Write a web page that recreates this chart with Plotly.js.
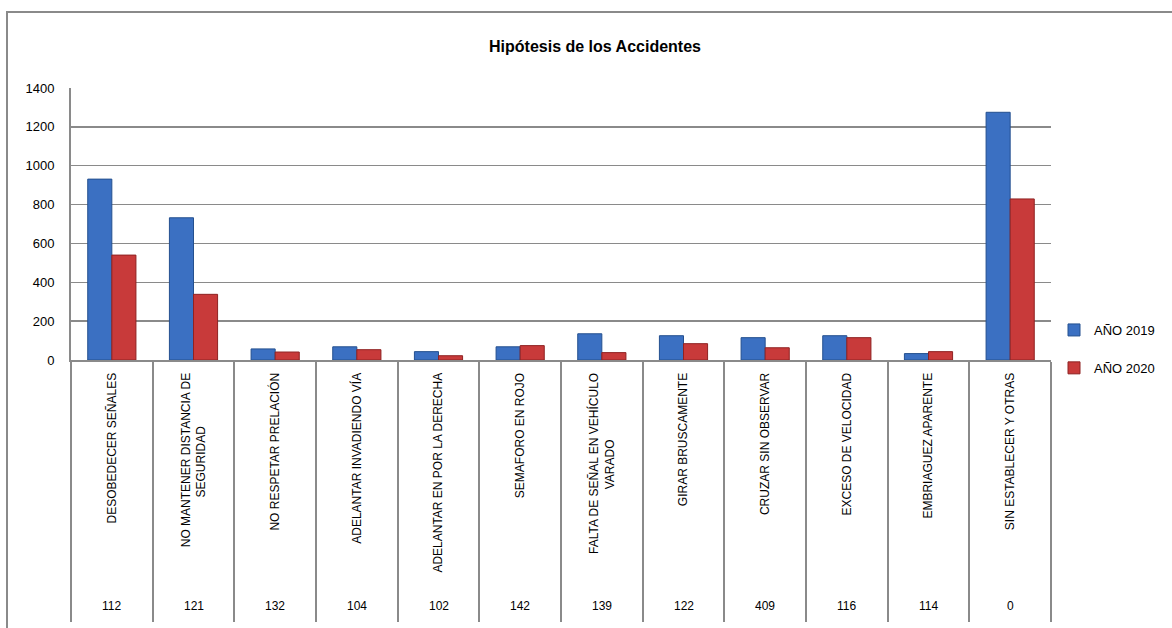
<!DOCTYPE html>
<html>
<head>
<meta charset="utf-8">
<script src="https://cdn.plot.ly/plotly-3.0.1.min.js"></script>
<style>
  html, body { margin: 0; padding: 0; background: #fff; }
  #wrap { position: relative; width: 1172px; height: 628px; overflow: hidden; }
  #chart { width: 1172px; height: 628px; }
  #frame { position: absolute; left: 6px; top: 11px; width: 1300px; height: 800px;
           border-left: 2px solid #8a8a8a; border-top: 2px solid #8a8a8a; pointer-events: none; }
</style>
</head>
<body>
<div id="wrap">
  <div id="chart"></div>
  <div id="frame"></div>
</div>
<script>
const categories = [
  "DESOBEDECER SEÑALES",
  "NO MANTENER DISTANCIA DE SEGURIDAD",
  "NO RESPETAR PRELACIÓN",
  "ADELANTAR INVADIENDO VÍA",
  "ADELANTAR EN POR LA DERECHA",
  "SEMAFORO EN ROJO",
  "FALTA DE SEÑAL EN VEHÍCULO VARADO",
  "GIRAR BRUSCAMENTE",
  "CRUZAR SIN OBSERVAR",
  "EXCESO DE VELOCIDAD",
  "EMBRIAGUEZ APARENTE",
  "SIN ESTABLECER Y OTRAS"
];
// label text as displayed (two labels wrap onto a second, centred line)
const tickLabels = [
  "DESOBEDECER SEÑALES",
  "NO MANTENER DISTANCIA DE<br>SEGURIDAD" + "\u00A0".repeat(16),
  "NO RESPETAR PRELACIÓN",
  "ADELANTAR INVADIENDO VÍA",
  "ADELANTAR EN POR LA DERECHA",
  "SEMAFORO EN ROJO",
  "FALTA DE SEÑAL EN VEHÍCULO<br>VARADO" + "\u00A0".repeat(20),
  "GIRAR BRUSCAMENTE",
  "CRUZAR SIN OBSERVAR",
  "EXCESO DE VELOCIDAD",
  "EMBRIAGUEZ APARENTE",
  "SIN ESTABLECER Y OTRAS"
];
const codes = ["112", "121", "132", "104", "102", "142", "139", "122", "409", "116", "114", "0"];
const values2019 = [931, 732, 57, 68, 43, 68, 135, 125, 115, 125, 33, 1275];
const values2020 = [540, 338, 41, 53, 22, 74, 38, 84, 63, 115, 43, 829];
const yTicks = [0, 200, 400, 600, 800, 1000, 1200, 1400];

const FONT = "Liberation Sans, Arial, sans-serif";

const traces = [
  {
    type: "bar", name: "AÑO 2019", x: categories, y: values2019,
    legendgroup: "a",
    marker: { color: "#3b70c2", line: { color: "#24508f", width: 1 } },
    hoverinfo: "x+y"
  },
  {
    type: "bar", name: "AÑO 2020", x: categories, y: values2020,
    legendgroup: "b",
    marker: { color: "#c83a3a", line: { color: "#8f2222", width: 1 } },
    hoverinfo: "x+y"
  }
];

const annotations = codes.map((c, i) => ({
  x: categories[i], xref: "x", y: -0.905, yref: "paper",
  text: c, showarrow: false, yanchor: "middle",
  font: { family: FONT, size: 12, color: "#000" }
}));

const layout = {
  width: 1172, height: 628,
  margin: { l: 71, r: 121, t: 88, b: 268, pad: 0 },
  paper_bgcolor: "#fff", plot_bgcolor: "#fff",
  font: { family: FONT, size: 12, color: "#000" },
  title: {
    text: "<b>Hipótesis de los Accidentes</b>",
    font: { family: FONT, size: 16, color: "#000" },
    x: 595 / 1172, xref: "container", xanchor: "center",
    y: 1 - 46 / 628, yref: "container", yanchor: "middle"
  },
  barmode: "group",
  bargap: 0.41,
  bargroupgap: 0,
  xaxis: {
    type: "category",
    automargin: false,
    tickangle: -90,
    tickvals: categories,
    ticktext: tickLabels,
    showline: true, linecolor: "#8a8a8a", linewidth: 2,
    ticks: "outside", tickson: "boundaries", ticklen: 260,
    tickcolor: "#8a8a8a", tickwidth: 2,
    ticklabelstandoff: 6,
    tickfont: { family: FONT, size: 12, color: "#000" },
    showgrid: false, zeroline: false, fixedrange: true
  },
  yaxis: {
    automargin: false,
    range: [0, 1400],
    tickvals: yTicks,
    ticktext: yTicks.map(String),
    showline: true, linecolor: "#8a8a8a", linewidth: 2,
    showgrid: true, gridcolor: "#8a8a8a", gridwidth: 1.5,
    zeroline: false, ticks: "",
    ticklabelstandoff: 12,
    tickfont: { family: FONT, size: 13, color: "#000" },
    fixedrange: true
  },
  showlegend: true,
  legend: {
    xref: "container", yref: "container",
    x: 1054 / 1172, xanchor: "left", y: 1 - 315 / 628, yanchor: "top",
    font: { family: FONT, size: 13, color: "#000" },
    traceorder: "grouped", tracegroupgap: 18,
    itemwidth: 30, bgcolor: "rgba(0,0,0,0)"
  },
  annotations: annotations
};

Plotly.newPlot("chart", traces, layout, { displayModeBar: false, staticPlot: true });
</script>
</body>
</html>
